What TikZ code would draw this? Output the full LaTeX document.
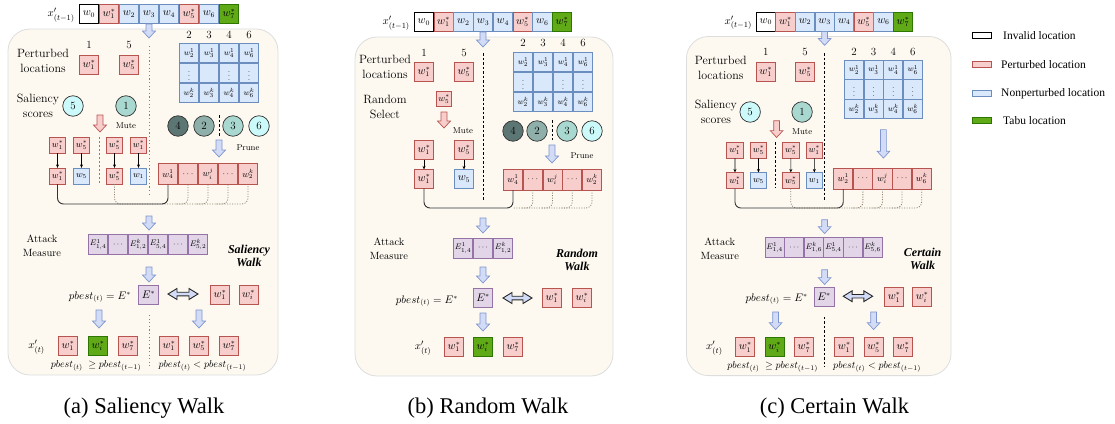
\documentclass[tikz,border=0pt]{standalone}
\usepackage{fontspec}
\newfontfamily\tnr{Liberation Serif}
\usetikzlibrary{arrows.meta}
\definecolor{rF}{HTML}{F8CECC}
\definecolor{rD}{HTML}{B85450}
\definecolor{bF}{HTML}{DAE8FC}
\definecolor{bD}{HTML}{6C8EBF}
\definecolor{gF}{HTML}{60A917}
\definecolor{gD}{HTML}{2D7600}
\definecolor{pF}{HTML}{E1D5E7}
\definecolor{pD}{HTML}{9673A6}
\definecolor{panF}{HTML}{FDF9F0}
\definecolor{panD}{HTML}{DDDDDD}
\definecolor{arF}{HTML}{D3DCF7}
\definecolor{arD}{HTML}{7F95CF}
\definecolor{cyL}{HTML}{CCFAFA}
\definecolor{tlL}{HTML}{A9D8D0}
\definecolor{tlM}{HTML}{8FAFAA}
\definecolor{tlD}{HTML}{5C7674}
\definecolor{dotC}{HTML}{8A7F70}
\newcommand{\DnArr}[4][barr]{\draw[#1] ({#2-3},#3) -- ({#2+3},#3) -- ({#2+3},{#4-7}) -- ({#2+6.5},{#4-7}) -- (#2,#4) -- ({#2-6.5},{#4-7}) -- ({#2-3},{#4-7}) -- cycle;}
\newcommand{\DblArr}[3]{\draw[dblarr] (#1,#3) -- ({#1+9},{#3-5.5}) -- ({#1+9},{#3-1.8}) -- ({#2-9},{#3-1.8}) -- ({#2-9},{#3-5.5}) -- (#2,#3) -- ({#2-9},{#3+5.5}) -- ({#2-9},{#3+1.8}) -- ({#1+9},{#3+1.8}) -- ({#1+9},{#3+5.5}) -- cycle;}
\begin{document}
\begin{tikzpicture}[x=1pt,y=-1pt,
 box/.style={rectangle, draw, minimum width=19.2pt, minimum height=19.2pt, inner sep=0pt, outer sep=0pt, line width=0.8pt, font=\fontsize{10.5}{12}\selectfont},
 wbox/.style={box, fill=white, draw=black},
 rbox/.style={box, fill=rF, draw=rD},
 bbox/.style={box, fill=bF, draw=bD},
 gbox/.style={box, fill=gF, draw=gD},
 pbox/.style={box, fill=pF, draw=pD},
 smallb/.style={minimum width=16.2pt, minimum height=16.2pt, font=\fontsize{9}{10}\selectfont},
 cell/.style={bbox, font=\fontsize{8.5}{10}\selectfont},
 cand/.style={rbox, minimum height=21.2pt, font=\fontsize{9}{10}\selectfont},
 ebox/.style={pbox, minimum height=20.2pt, font=\fontsize{8.5}{10}\selectfont},
 circ/.style={circle, draw=black!80, line width=0.7pt, minimum size=20.5pt, inner sep=0pt, outer sep=0pt, font=\fontsize{11}{12}\selectfont},
 lab/.style={align=center, font=\fontsize{12}{14.5}\selectfont, inner sep=0pt},
 labs/.style={align=center, font=\fontsize{10.5}{14}\selectfont, inner sep=0pt},
 num/.style={font=\fontsize{11}{12}\selectfont, inner sep=0pt},
 mute/.style={font=\fontsize{8.5}{10}\selectfont, inner sep=0pt},
 xlab/.style={font=\fontsize{11}{12}\selectfont, inner sep=0pt},
 pbl/.style={font=\fontsize{10.5}{11}\selectfont, inner sep=0pt},
 pbb/.style={font=\fontsize{10}{11}\selectfont, inner sep=0pt},
 walk/.style={align=center, font=\tnr\bfseries\itshape\fontsize{12}{13.5}\selectfont, inner sep=0pt},
 panel/.style={draw=panD, fill=panF, line width=0.8pt, rounded corners=22pt},
 barr/.style={draw=arD, fill=arF, line width=0.7pt},
 rarr/.style={draw=rD, fill=rF, line width=0.7pt},
 dblarr/.style={draw=black!85, fill=arF, line width=0.9pt},
 sarr/.style={-{Stealth[length=3.5pt,width=3pt]}, line width=0.6pt, black},
 gdot/.style={dotC, dash pattern=on 1.2pt off 2.4pt, line width=1pt},
 gdash/.style={dotC, dash pattern=on 2pt off 2pt, line width=0.8pt},
 kdash/.style={black, dash pattern=on 2.5pt off 2pt, line width=0.7pt},
 link/.style={black!80, line width=0.9pt, rounded corners=6pt},
 dlink/.style={dotC, dash pattern=on 1pt off 1.5pt, line width=0.8pt, rounded corners=6pt},
 leg/.style={font=\tnr\fontsize{11.5}{13}\selectfont, anchor=west, inner sep=0pt},
 capt/.style={font=\tnr\fontsize{22.5}{26}\selectfont, anchor=base, inner sep=0pt},
]
\useasboundingbox (0,0) rectangle (1115,423);

%================ PANEL (a) =================
\draw[panel] (8,29) rectangle (278,375);
\node[xlab, anchor=east] (aX) at (75,15) {$x'_{(t-1)}$};
\node[wbox] (a0) at (89,14) {$w_0$};
\node[rbox] (a1) at (109,14) {$w_1^*$};
\node[bbox] (a2) at (129,14) {$w_2$};
\node[bbox] (a3) at (149,14) {$w_3$};
\node[bbox] (a4) at (169,14) {$w_4$};
\node[rbox] (a5) at (189,14) {$w_5^*$};
\node[bbox] (a6) at (209,14) {$w_6$};
\node[gbox] (a7) at (229,14) {$w_7^*$};
\DnArr{149}{24}{38}
\node[lab] (aPL) at (43,61) {Perturbed\\locations};
\node[num] (aN1) at (89,45) {1};
\node[num] (aN5) at (129,45) {5};
\node[rbox] (aP1) at (89,65) {$w_1^*$};
\node[rbox] (aP5) at (129,65) {$w_5^*$};
\draw[gdot] (149,46) -- (149,197);
\foreach \c/\n [count=\k] in {189/2,209/3,229/4,249/6} {
  \node[num] (aH\k) at (\c,35) {\n};
  \node[cell] (aMa\k) at (\c,53) {$w_{\n}^1$};
  \node[cell] (aMc\k) at (\c,93) {$w_{\n}^k$};
}
\node[cell] (aMb1) at (189,73) {$\vdots$};
\node[cell] (aMb2) at (209,73) {};
\node[cell] (aMb3) at (229,73) {$\vdots$};
\node[cell] (aMb4) at (249,73) {$\vdots$};
\node[lab] (aSS) at (38,106) {Saliency\\scores};
\node[circ, fill=cyL] (aC5) at (73,106) {5};
\node[circ, fill=tlL] (aC1) at (126,106) {1};
\DnArr[rarr]{100}{115}{132}
\node[mute] (aMute) at (126,126) {Mute};
\node[circ, fill=tlD] (aC4) at (178,126) {4};
\node[circ, fill=tlM] (aC2) at (204,126) {2};
\draw[kdash] (219,115) -- (219,136);
\node[circ, fill=tlL] (aC3) at (233,126) {3};
\node[circ, fill=cyL] (aC6) at (259,126) {6};
\DnArr{219}{140}{157}
\node[mute] (aPr) at (248,148) {Prune};
\node[rbox, smallb] (aT1) at (57.5,145) {$w_1^*$};
\node[rbox, smallb] (aT2) at (81.5,145) {$w_5^*$};
\node[rbox, smallb] (aT3) at (114.5,145) {$w_5^*$};
\node[rbox, smallb] (aT4) at (138.5,145) {$w_1^*$};
\node[rbox, smallb] (aB1) at (57.5,176) {$w_1^*$};
\node[bbox, smallb] (aB2) at (81.5,176) {$w_5$};
\node[rbox, smallb] (aB3) at (114.5,176) {$w_5^*$};
\node[bbox, smallb] (aB4) at (138.5,176) {$w_1$};
\foreach \k in {1,...,4} \draw[sarr] (aT\k) -- (aB\k);
\draw[gdash] (99,137) -- (99,183);
\node[cand] (aQ1) at (168,174) {$w_4^1$};
\node[cand] (aQ2) at (188,174) {$\cdots$};
\node[cand] (aQ3) at (208,174) {$w_i^j$};
\node[cand] (aQ4) at (228,174) {$\cdots$};
\node[cand] (aQ5) at (248,174) {$w_2^k$};
\coordinate (aLv) at (0,204);
\draw[dlink] (aB3.south) -- (aB3.south |- aLv) -- (aQ5.south |- aLv) -- (aQ5.south);
\foreach \k in {2,3,4} \draw[dlink] (aQ\k.south) -- (aQ\k.south |- aLv) -- ++(-12,0);
\draw[link] (aB1.south) -- (aB1.south |- aLv) -- (aQ1.south |- aLv) -- (aQ1.south);
\DnArr{149}{216}{230}
\node[labs] (aAM) at (42,246) {Attack\\Measure};
\node[ebox] (aE1) at (98,244.5) {$E^1_{1,4}$};
\node[ebox] (aE2) at (118,244.5) {$\cdots$};
\node[ebox] (aE3) at (138,244.5) {$E^k_{1,2}$};
\node[ebox] (aE4) at (158,244.5) {$E^1_{5,4}$};
\node[ebox] (aE5) at (178,244.5) {$\cdots$};
\node[ebox] (aE6) at (198,244.5) {$E^k_{5,2}$};
\node[walk] (aWK) at (249,256) {Saliency\\Walk};
\DnArr{149}{267}{282}
\node[pbl] (aPB) at (100,297) {$pbest_{(t)}=E^*$};
\node[pbox, minimum width=20.2pt] (aEs) at (148.5,295) {$E^*$};
\node[rbox] (aR1) at (220,295) {$w_1^*$};
\node[rbox] (aRi) at (248.5,295) {$w_i^*$};
\DblArr{168}{198}{294}
\DnArr{99}{310}{328}
\DnArr{199}{310}{328}
\draw[gdot] (149,315) -- (149,366);
\node[xlab] (aXt) at (36.5,347) {$x'_{(t)}$};
\node[rbox] (aF1) at (68,346) {$w_1^*$};
\node[gbox] (aF2) at (98,346) {$w_i^*$};
\node[rbox] (aF3) at (128,346) {$w_7^*$};
\node[rbox] (aG1) at (169,346) {$w_1^*$};
\node[rbox] (aG2) at (199,346) {$w_5^*$};
\node[rbox] (aG3) at (229,346) {$w_7^*$};
\node[pbb] (aL1) at (96,366) {$pbest_{(t)}\;\geq pbest_{(t-1)}$};
\node[pbb] (aL2) at (202.5,366) {$pbest_{(t)} < pbest_{(t-1)}$};

%================ PANEL (b) =================
\draw[panel] (355,37) rectangle (613,376);
\node[xlab, anchor=east] (bX) at (410,23) {$x'_{(t-1)}$};
\begin{scope}[every node/.append style={minimum width=18.95pt}]
\node[wbox] (b0) at (423.9,22) {$w_0$};
\node[rbox] (b1) at (443.6,22) {$w_1^*$};
\node[bbox] (b2) at (463.4,22) {$w_2$};
\node[bbox] (b3) at (483.1,22) {$w_3$};
\node[bbox] (b4) at (502.9,22) {$w_4$};
\node[rbox] (b5) at (522.6,22) {$w_5^*$};
\node[bbox] (b6) at (542.4,22) {$w_6$};
\node[gbox] (b7) at (562.1,22) {$w_7^*$};
\end{scope}
\DnArr{483}{32}{47}
\node[lab] (bPL) at (385,67) {Perturbed\\locations};
\node[num] (bN1) at (424,53) {1};
\node[num] (bN5) at (464,53) {5};
\node[rbox] (bP1) at (424,72) {$w_1^*$};
\node[rbox] (bP5) at (464,72) {$w_5^*$};
\draw[kdash] (483,53) -- (483,200);
\foreach \c/\n [count=\k] in {523/2,543/3,563/4,583/6} {
  \node[num] (bH\k) at (\c,43) {\n};
  \node[cell] (bMa\k) at (\c,62) {$w_{\n}^1$};
  \node[cell] (bMc\k) at (\c,102) {$w_{\n}^k$};
}
\node[cell] (bMb1) at (523,82) {$\vdots$};
\node[cell] (bMb2) at (543,82) {};
\node[cell] (bMb3) at (563,82) {$\vdots$};
\node[cell] (bMb4) at (583,82) {$\vdots$};
\node[lab] (bRS) at (385,107) {Random\\Select};
\node[rbox, minimum width=15.2pt, minimum height=15.2pt, font=\fontsize{9}{10}\selectfont] (bS5) at (444,99) {$w_5^*$};
\DnArr[rarr]{444}{112}{128}
\node[mute] (bMute) at (463,131) {Mute};
\node[circ, fill=tlD] (bC4) at (513,131) {4};
\node[circ, fill=tlM] (bC2) at (537,131) {2};
\draw[kdash] (552,120) -- (552,140);
\node[circ, fill=tlL] (bC3) at (567,131) {3};
\node[circ, fill=cyL] (bC6) at (592,131) {6};
\DnArr{552}{145}{163}
\node[mute] (bPr) at (582,156) {Prune};
\node[rbox] (bT1) at (424,150) {$w_1^*$};
\node[rbox] (bT2) at (464,150) {$w_5^*$};
\node[rbox] (bB1) at (424,179) {$w_1^*$};
\node[bbox] (bB2) at (464,179) {$w_5$};
\foreach \k in {1,2} \draw[sarr] (bT\k) -- (bB\k);
\begin{scope}[every node/.append style={minimum width=18.95pt, minimum height=18.2pt}]
\node[cand] (bQ1) at (513,179.5) {$w_4^1$};
\node[cand] (bQ2) at (532.75,179.5) {$\cdots$};
\node[cand] (bQ3) at (552.5,179.5) {$w_i^j$};
\node[cand] (bQ4) at (572.25,179.5) {$\cdots$};
\node[cand] (bQ5) at (592,179.5) {$w_2^k$};
\end{scope}
\coordinate (bLv) at (0,208);
\draw[dlink] (bQ5.south) -- (bQ5.south |- bLv) -- (bQ1.south |- bLv);
\foreach \k in {2,3,4} \draw[dlink] (bQ\k.south) -- (bQ\k.south |- bLv) -- ++(-12,0);
\draw[link] (bB1.south) -- (bB1.south |- bLv) -- (bQ1.south |- bLv) -- (bQ1.south);
\DnArr{483}{218}{233}
\node[labs] (bAM) at (389,249) {Attack\\Measure};
\node[ebox] (bE1) at (463,248) {$E^1_{1,4}$};
\node[ebox] (bE2) at (483,248) {$\cdots$};
\node[ebox] (bE3) at (503,248) {$E^k_{1,2}$};
\node[walk] (bWK) at (577,260) {Random\\Walk};
\DnArr{483}{267}{283}
\node[pbl] (bPB) at (427,301) {$pbest_{(t)}=E^*$};
\node[pbox] (bEs) at (483,298) {$E^*$};
\DblArr{503}{532}{298}
\node[rbox] (bR1) at (552,298) {$w_1^*$};
\node[rbox] (bRi) at (582,298) {$w_i^*$};
\DnArr{483}{313}{331}
\node[xlab] (bXt) at (423,348) {$x'_{(t)}$};
\node[rbox] (bF1) at (454,347) {$w_1^*$};
\node[gbox] (bF2) at (483,347) {$w_i^*$};
\node[rbox] (bF3) at (513,347) {$w_7^*$};

%================ PANEL (c) =================
\begin{scope}[shift={(678.6,8.1)}, scale=0.98]
\draw[panel] (8,29) rectangle (278,375);
\node[xlab, anchor=east] (cX) at (75,15) {$x'_{(t-1)}$};
\node[wbox] (c0) at (89,14) {$w_0$};
\node[rbox] (c1) at (109,14) {$w_1^*$};
\node[bbox] (c2) at (129,14) {$w_2$};
\node[bbox] (c3) at (149,14) {$w_3$};
\node[bbox] (c4) at (169,14) {$w_4$};
\node[rbox] (c5) at (189,14) {$w_5^*$};
\node[bbox] (c6) at (209,14) {$w_6$};
\node[gbox] (c7) at (229,14) {$w_7^*$};
\DnArr{149}{24}{38}
\node[lab] (cPL) at (43,61) {Perturbed\\locations};
\node[num] (cN1) at (89,45) {1};
\node[num] (cN5) at (129,45) {5};
\node[rbox] (cP1) at (89,65) {$w_1^*$};
\node[rbox] (cP5) at (129,65) {$w_5^*$};
\draw[kdash] (149,46) -- (149,197);
\foreach \c/\n [count=\k] in {179/2,199/3,219/4,239/6} {
  \node[num] (cH\k) at (\c,45) {\n};
  \node[cell] (cMa\k) at (\c,63) {$w_{\n}^1$};
  \node[cell] (cMb\k) at (\c,83) {$\vdots$};
  \node[cell] (cMc\k) at (\c,103) {$w_{\n}^k$};
}
\node[lab] (cSS) at (38,106) {Saliency\\scores};
\node[circ, fill=cyL] (cC5) at (73,106) {5};
\node[circ, fill=tlL] (cC1) at (126,106) {1};
\DnArr[rarr]{100}{115}{132}
\node[mute] (cMute) at (126,126) {Mute};
\DnArr{209}{124}{153}
\node[rbox, smallb] (cT1) at (57.5,145) {$w_1^*$};
\node[rbox, smallb] (cT2) at (81.5,145) {$w_5^*$};
\node[rbox, smallb] (cT3) at (114.5,145) {$w_5^*$};
\node[rbox, smallb] (cT4) at (138.5,145) {$w_1^*$};
\node[rbox, smallb] (cB1) at (57.5,176) {$w_1^*$};
\node[bbox, smallb] (cB2) at (81.5,176) {$w_5$};
\node[rbox, smallb] (cB3) at (114.5,176) {$w_5^*$};
\node[bbox, smallb] (cB4) at (138.5,176) {$w_1$};
\foreach \k in {1,...,4} \draw[sarr] (cT\k) -- (cB\k);
\draw[kdash] (99,137) -- (99,183);
\node[cand] (cQ1) at (168,174) {$w_2^1$};
\node[cand] (cQ2) at (188,174) {$\cdots$};
\node[cand] (cQ3) at (208,174) {$w_i^j$};
\node[cand] (cQ4) at (228,174) {$\cdots$};
\node[cand] (cQ5) at (248,174) {$w_6^k$};
\coordinate (cLv) at (0,204);
\draw[dlink] (cB3.south) -- (cB3.south |- cLv) -- (cQ5.south |- cLv) -- (cQ5.south);
\foreach \k in {2,3,4} \draw[dlink] (cQ\k.south) -- (cQ\k.south |- cLv) -- ++(-12,0);
\draw[link] (cB1.south) -- (cB1.south |- cLv) -- (cQ1.south |- cLv) -- (cQ1.south);
\DnArr{149}{216}{230}
\node[labs] (cAM) at (42,246) {Attack\\Measure};
\node[ebox] (cE1) at (98,244.5) {$E^1_{1,4}$};
\node[ebox] (cE2) at (118,244.5) {$\cdots$};
\node[ebox] (cE3) at (138,244.5) {$E^k_{1,6}$};
\node[ebox] (cE4) at (158,244.5) {$E^1_{5,4}$};
\node[ebox] (cE5) at (178,244.5) {$\cdots$};
\node[ebox] (cE6) at (198,244.5) {$E^k_{5,6}$};
\node[walk] (cWK) at (249,256) {Certain\\Walk};
\DnArr{149}{267}{282}
\node[pbl] (cPB) at (100,297) {$pbest_{(t)}=E^*$};
\node[pbox, minimum width=20.2pt] (cEs) at (148.5,295) {$E^*$};
\node[rbox] (cR1) at (220,295) {$w_1^*$};
\node[rbox] (cRi) at (248.5,295) {$w_i^*$};
\DblArr{168}{198}{294}
\DnArr{99}{310}{328}
\DnArr{199}{310}{328}
\draw[kdash] (149,315) -- (149,366);
\node[xlab] (cXt) at (36.5,347) {$x'_{(t)}$};
\node[rbox] (cF1) at (68,346) {$w_1^*$};
\node[gbox] (cF2) at (98,346) {$w_i^*$};
\node[rbox] (cF3) at (128,346) {$w_7^*$};
\node[rbox] (cG1) at (169,346) {$w_1^*$};
\node[rbox] (cG2) at (199,346) {$w_5^*$};
\node[rbox] (cG3) at (229,346) {$w_7^*$};
\node[pbb] (cL1) at (96,366) {$pbest_{(t)}\;\geq pbest_{(t-1)}$};
\node[pbb] (cL2) at (202.5,366) {$pbest_{(t)} < pbest_{(t-1)}$};
\end{scope}

%================ LEGEND =================
\node[wbox, minimum width=19.2pt, minimum height=6.2pt] (lg1) at (982,35.5) {};
\node[rbox, minimum width=19.2pt, minimum height=6.2pt] (lg2) at (982,64.5) {};
\node[bbox, minimum width=19.2pt, minimum height=6.2pt] (lg3) at (982,93.5) {};
\node[gbox, minimum width=19.2pt, minimum height=6.2pt] (lg4) at (982,120) {};
\node[leg] (lt1) at (1003,36) {Invalid location};
\node[leg] (lt2) at (1001,65) {Perturbed location};
\node[leg] (lt3) at (1001,94) {Nonperturbed location};
\node[leg] (lt4) at (1003,121) {Tabu location};

%================ CAPTIONS =================
\node[capt] (cap1) at (144,413) {(a) Saliency Walk};
\node[capt] (cap2) at (488,413) {(b) Random Walk};
\node[capt] (cap3) at (834.5,413) {(c) Certain Walk};
\end{tikzpicture}
\end{document}
